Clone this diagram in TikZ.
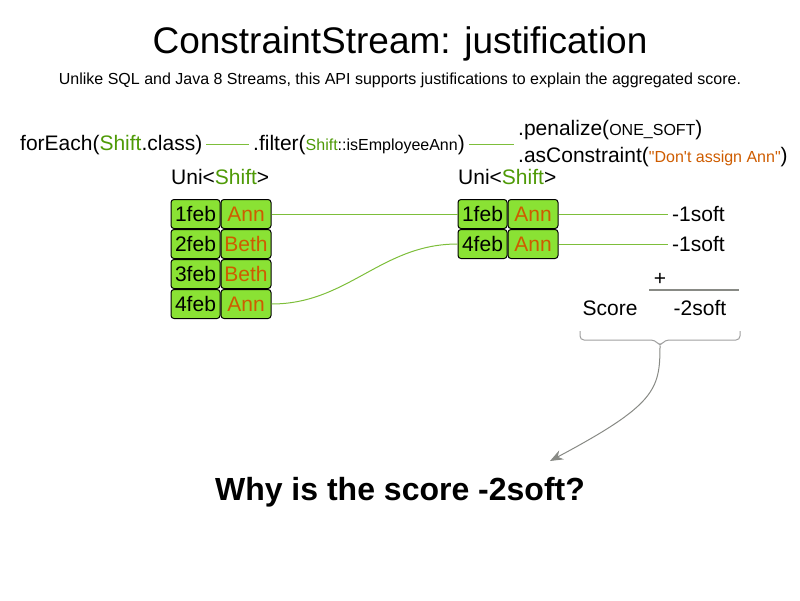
\documentclass[tikz,border=0pt]{standalone}
\usepackage{fontspec}
\setmainfont{Liberation Sans}
\usetikzlibrary{arrows.meta,positioning}

\definecolor{shiftgreen}{HTML}{4E9A06}
\definecolor{annorange}{HTML}{CE5C00}
\definecolor{cellgreen}{HTML}{8AE234}
\definecolor{linkgreen}{HTML}{7DBE3A}
\definecolor{scoregray}{HTML}{888A85}
\definecolor{bracegray}{HTML}{A0A0A0}

\newcommand{\smallfont}{\fontsize{16}{19}\selectfont}
\newcommand{\shiftword}{\textcolor{shiftgreen}{Shift}}

\begin{document}
\begin{tikzpicture}[
	x = 1pt, y = -1pt,
	> = {Stealth[length=13pt,width=10pt]},
	codetext/.style = {font=\fontsize{21}{27}\selectfont, inner sep=4pt},
	datecell/.style = {draw, line width=1pt, fill=cellgreen, rounded corners=3pt, minimum width=49pt, minimum height=29pt, inner sep=0pt, font=\fontsize{21}{25}\selectfont},
	namecell/.style = {datecell, minimum width=50pt, text=annorange},
	link/.style = {linkgreen, line width=1pt}
	]
	\useasboundingbox (0,0) rectangle (800,600);
	% titles
	\node[font=\fontsize{37}{44}\selectfont, anchor=base] (title) at (400,53) {ConstraintStream: justification};
	\node[font=\fontsize{16}{19}\selectfont, anchor=base] (subtitle) at (400,84) {Unlike SQL and Java 8 Streams, this API supports justifications to explain the aggregated score.};
	% stream code
	\node[codetext, anchor=base west] (foreach) at (16,150) {forEach(\shiftword.class)};
	\node[codetext, anchor=base west] (filter) at (249,150) {.filter({\smallfont\shiftword::isEmployeeAnn})};
	\node[codetext, anchor=west, align=left] (penalize) at (514,144) {.penalize({\smallfont ONE\_SOFT})\\.asConstraint({\smallfont\color{annorange}\textquotedbl Don\textquotesingle t assign Ann\textquotedbl})};
	\draw[link] (foreach.east) -- (filter.west);
	\draw[link] (filter.east) -- (filter.east -| penalize.west);
	\node[codetext, anchor=base west] (lefttype) at (167,184) {Uni<\shiftword>};
	\node[codetext, anchor=base west] (righttype) at (454,184) {Uni<\shiftword>};
	% tuples
	\foreach \d/\n [count=\i] in {1feb/Ann,2feb/Beth,3feb/Beth,4feb/Ann} {
		\node[datecell] (ld\i) at (195.5,184+30*\i) {\d};
		\node[namecell, right=0pt of ld\i] (ln\i) {\n};
	}
	\foreach \d [count=\i] in {1feb,4feb} {
		\node[datecell] (rd\i) at (482.5,184+30*\i) {\d};
		\node[namecell, right=0pt of rd\i] (rn\i) {Ann};
	}
	\draw[link] (ln1) -- (rd1);
	\draw[link] (ln4.east) to[out=0,in=180] (rd2.west);
	% score
	\node[codetext, anchor=west] (soft1) at (668,214) {-1soft};
	\node[codetext, anchor=west] (soft2) at (668,244) {-1soft};
	\draw[link] (rn1) -- (soft1);
	\draw[link] (rn2) -- (soft2);
	\node[codetext] (plus) at (660,279) {+};
	\draw[scoregray, line width=2pt] (649,290) -- (739,290);
	\node[codetext] (scorelabel) at (610,308) {Score};
	\node[codetext] (total) at (700,308) {-2soft};
	\draw[bracegray, line width=1pt, rounded corners=4pt] (580,331) -- (580,340) -- (655,340) -- (660,346) -- (665,340) -- (740,340) -- (740,331);
	\coordinate (bracetip) at (660,346);
	\coordinate (askpoint) at (550,461);
	\draw[->, scoregray, line width=1pt] (bracetip) .. controls (660,390) and (655,405) .. (askpoint);
	\node[font=\bfseries\fontsize{32}{38}\selectfont, anchor=base] (question) at (400,500) {Why is the score -2soft?};
\end{tikzpicture}
\end{document}
